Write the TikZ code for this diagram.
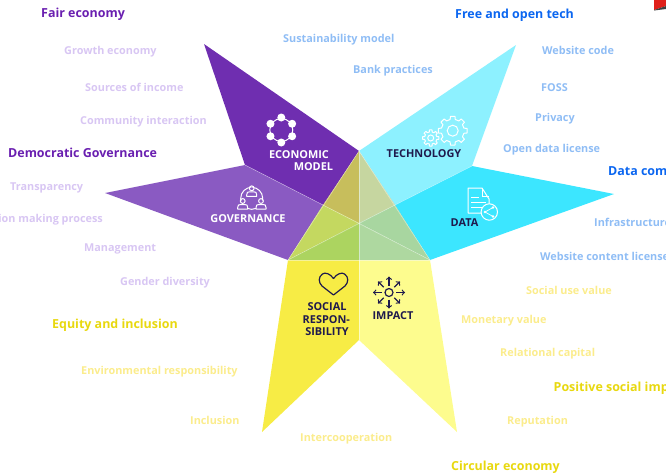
\documentclass[tikz,border=0pt]{standalone}
\usepackage{fontspec}
\setmainfont{Open Sans}
\usepackage{tikz}
\usetikzlibrary{arrows, calc}
\definecolor{economic}{HTML}{6F2EB0}
\definecolor{governance}{HTML}{8A5AC2}
\definecolor{technology}{HTML}{8DF1FF}
\definecolor{datafill}{HTML}{3CE6FF}
\definecolor{social}{HTML}{F7EC45}
\definecolor{impact}{HTML}{FDFC8E}
\definecolor{navy}{HTML}{1F1A4D}
\definecolor{purplehead}{HTML}{6A1FB0}
\definecolor{purpleitem}{HTML}{D8C6F3}
\definecolor{bluehead}{HTML}{0B66F0}
\definecolor{blueitem}{HTML}{8FBDF5}
\definecolor{yellowhead}{HTML}{E8D80F}
\definecolor{yellowitem}{HTML}{FBEC8C}
\definecolor{cornerred}{HTML}{E0201A}
\tikzset{
x=1pt, y=-1pt, % one unit is one pixel of the picture
head/.style={anchor=base west, inner sep=0pt, font=\bfseries\fontsize{12.45}{14}\selectfont},
item/.style={anchor=base west, inner sep=0pt, font=\bfseries\fontsize{10.85}{13}\selectfont},
title/.style={inner sep=0pt, font=\bfseries\fontsize{10.9}{12}\selectfont},
seam/.style={white, opacity=0.45, line width=0.5pt},
whiteicon/.style={draw=white, line width=1pt, fill=none},
navyicon/.style={draw=navy, line width=1.2pt, fill=none},
}
% outline of a cog wheel: centre, outer radius, inner radius, hole radius
\newcommand{\cogwheel}[4]{
    \draw[whiteicon, line join=round] ($#1+(-13:#3)$)
        \foreach \a in {0,45,...,315} {
            -- ($#1+(\a-13:#3)$) -- ($#1+(\a-9:#2)$) -- ($#1+(\a+9:#2)$) -- ($#1+(\a+13:#3)$)
        } -- cycle;
    \draw[whiteicon] #1 circle[radius=#4];
}
% one person of the governance icon, given by the centre of the head
\newcommand{\person}[1]{
    \fill[governance] #1 ++(0,4) circle[radius=5];
    \draw[whiteicon] #1 circle[radius=2.4];
    \draw[whiteicon, fill=governance, line join=round] #1 ++(-5,8) -- ++(0,-1.5)
        .. controls ++(0,-2.5) and ++(-2,0) .. ++(3,-3) -- ++(4,0)
        .. controls ++(2,0) and ++(0,-2.5) .. ++(3,3) -- ++(0,1.5) -- cycle;
}

\begin{document}
\begin{tikzpicture}
    \useasboundingbox (0,0) rectangle (666,474);
    \clip (0,0) rectangle (666,474);

    \coordinate (apex) at (359,151);
    \coordinate (left) at (288,260);
    \coordinate (right) at (430,260);
    \coordinate (midleft) at (323,205);
    \coordinate (midright) at (395,205);
    \coordinate (midbase) at (359,260);
    \coordinate (centre) at (359,223);
    \coordinate (notch) at (359,340);
    \coordinate (ecotop) at (204,44);
    \coordinate (ecobase) at (245,165);
    \coordinate (govtip) at (105,193);
    \coordinate (techtop) at (516,45);
    \coordinate (techbase) at (472,166);
    \coordinate (datatip) at (614,194);
    \coordinate (socialtip) at (262,432);
    \coordinate (impacttip) at (457,432);

    % petals
    \fill[economic] (ecotop) -- (apex) -- (midleft) -- (ecobase) -- cycle;
    \fill[governance] (ecobase) -- (govtip) -- (left) -- (midleft) -- cycle;
    \fill[technology] (techtop) -- (apex) -- (midright) -- (techbase) -- cycle;
    \fill[datafill] (techbase) -- (datatip) -- (right) -- (midright) -- cycle;
    \fill[social] (left) -- (midbase) -- (notch) -- (socialtip) -- cycle;
    \fill[impact] (midbase) -- (right) -- (impacttip) -- (notch) -- cycle;

    % overlap in the middle
    \fill[fill={rgb,255:red,199;green,190;blue,92}] (apex) -- (midleft) -- (centre) -- cycle;
    \fill[fill={rgb,255:red,198;green,214;blue,160}] (apex) -- (midright) -- (centre) -- cycle;
    \fill[fill={rgb,255:red,196;green,216;blue,96}] (midleft) -- (left) -- (centre) -- cycle;
    \fill[fill={rgb,255:red,172;green,212;blue,96}] (left) -- (midbase) -- (centre) -- cycle;
    \fill[fill={rgb,255:red,174;green,216;blue,160}] (midbase) -- (right) -- (centre) -- cycle;
    \fill[fill={rgb,255:red,168;green,214;blue,160}] (right) -- (midright) -- (centre) -- cycle;

    \draw[seam] (ecobase) -- (midleft) -- (right);
    \draw[seam] (techbase) -- (midright) -- (left);
    \draw[seam] (apex) -- (notch);
    \draw[seam] (left) -- (apex) -- (right);
    \draw[seam] (left) -- (right);

    % corner mark
    \fill[cornerred] (654,0) -- (666,0) -- (666,6) -- (654,10) -- cycle;
    \fill[black!75] (654,10) -- (666,6) -- (666,9) -- (654,10.5) -- cycle;

    % icon of the economic model
    \draw[whiteicon] (281.3,130) circle[radius=11.5];
    \foreach \a in {30,90,...,330} {
        \fill[white] (281.3,130) ++(\a:12.5) circle[radius=4];
    }

    % icon of the governance
    \draw[whiteicon] (251.7,198.3) circle[radius=11];
    \person{(251.7,188.3)}
    \person{(242.7,201)}
    \person{(261,201)}

    % icon of the technology
    \cogwheel{(452.7,130.7)}{14.5}{11.5}{5.5}
    \cogwheel{(430.7,138)}{8.2}{6.2}{3}

    % icon of the data
    \draw[whiteicon, line join=round] (489,204) -- (489,199) -- (482,188) -- (468,188) -- (468,213) -- (481,213);
    \draw[whiteicon] (482,188) -- (482,196) -- (489,196);
    \draw[whiteicon] (471,197) -- (479,197) (471,202) -- (486,202) (471,207) -- (482,207);
    \draw[whiteicon, fill=datafill] (489.3,212) circle[radius=8.2];
    \draw[whiteicon, line width=.7pt] (493,207.5) -- (485,212) -- (493,216.5);
    \foreach \p in {(493,207.5),(485,212),(493,216.5)} {
        \fill[white] \p circle[radius=1.4];
    }

    % icon of the social responsibility
    \draw[navyicon, line join=round] (333.5,278.5) .. controls (330,273.5) and (325,272) .. (322.5,274) .. controls (318,277) and (318.5,282.5) .. (322,286) -- (333.5,295) -- (345,286) .. controls (348.5,282.5) and (349,277) .. (344.5,274) .. controls (342,272) and (337,273.5) .. (333.5,278.5) -- cycle;

    % icon of the impact
    \draw[navyicon] (389,292.5) circle[radius=4];
    \foreach \a in {0,90,...,270} {
        \draw[navyicon, -to] (389,292.5) ++(\a:7) -- ++(\a:9);
    }
    \foreach \a in {45,135,...,315} {
        \draw[navyicon, -to] (389,292.5) ++(\a:7.5) -- ++(\a:8);
    }

    % titles in the petals
    \node[title, white] (economic) at (299,154.3) {ECONOMIC};
    \node[title, white] (model) at (313.4,166.8) {MODEL};
    \node[title, white] (governance) at (248,218.4) {GOVERNANCE};
    \node[title, navy] (technology) at (424,154) {TECHNOLOGY};
    \node[title, navy] (data) at (464.5,223) {DATA};
    \node[title, navy] (socialone) at (327,307) {SOCIAL};
    \node[title, navy] (socialtwo) at (326.3,319.5) {RESPON-};
    \node[title, navy] (socialthree) at (327,332) {SIBILITY};
    \node[title, navy] (impact) at (393,315.5) {IMPACT};

    % purple side
    \node[head, purplehead] (fair) at (41,17.7) {Fair economy};
    \node[item, purpleitem] (growth) at (64,54.3) {Growth economy};
    \node[item, purpleitem] (sources) at (85,91.3) {Sources of income};
    \node[item, purpleitem] (community) at (80,124.7) {Community interaction};
    \node[head, purplehead] (democratic) at (8,157.7) {Democratic Governance};
    \node[item, purpleitem] (transparency) at (10,190.7) {Transparency};
    \node[item, purpleitem, anchor=base east] (decision) at (103,222.7) {Decision making process};
    \node[item, purpleitem] (management) at (84,251.7) {Management};
    \node[item, purpleitem] (gender) at (120,285.7) {Gender diversity};

    % yellow side
    \node[head, yellowhead] (equity) at (52,328) {Equity and inclusion};
    \node[item, yellowitem] (environmental) at (81,374) {Environmental responsibility};
    \node[item, yellowitem] (inclusion) at (190,424.7) {Inclusion};
    \node[item, yellowitem] (intercooperation) at (300,441.3) {Intercooperation};
    \node[head, yellowhead] (circular) at (451,470.7) {Circular economy};
    \node[item, yellowitem] (reputation) at (507,424.7) {Reputation};
    \node[head, yellowhead] (positive) at (553.5,391.3) {Positive social impact};
    \node[item, yellowitem] (relational) at (500,356.7) {Relational capital};
    \node[item, yellowitem] (monetary) at (461,323.3) {Monetary value};
    \node[item, yellowitem] (socialuse) at (526,294) {Social use value};

    % blue side
    \node[item, blueitem] (content) at (540,260.7) {Website content license};
    \node[item, blueitem] (infrastructure) at (594,226.7) {Infrastructure};
    \node[head, bluehead] (commons) at (608,175) {Data commons};
    \node[item, blueitem] (opendata) at (503,152) {Open data license};
    \node[item, blueitem] (privacy) at (535,121.7) {Privacy};
    \node[item, blueitem] (foss) at (541,91) {FOSS};
    \node[item, blueitem] (code) at (542,54.3) {Website code};
    \node[head, bluehead] (free) at (455,18) {Free and open tech};
    \node[item, blueitem] (sustainability) at (283,42) {Sustainability model};
    \node[item, blueitem] (bank) at (353,73.3) {Bank practices};
\end{tikzpicture}
\end{document}
